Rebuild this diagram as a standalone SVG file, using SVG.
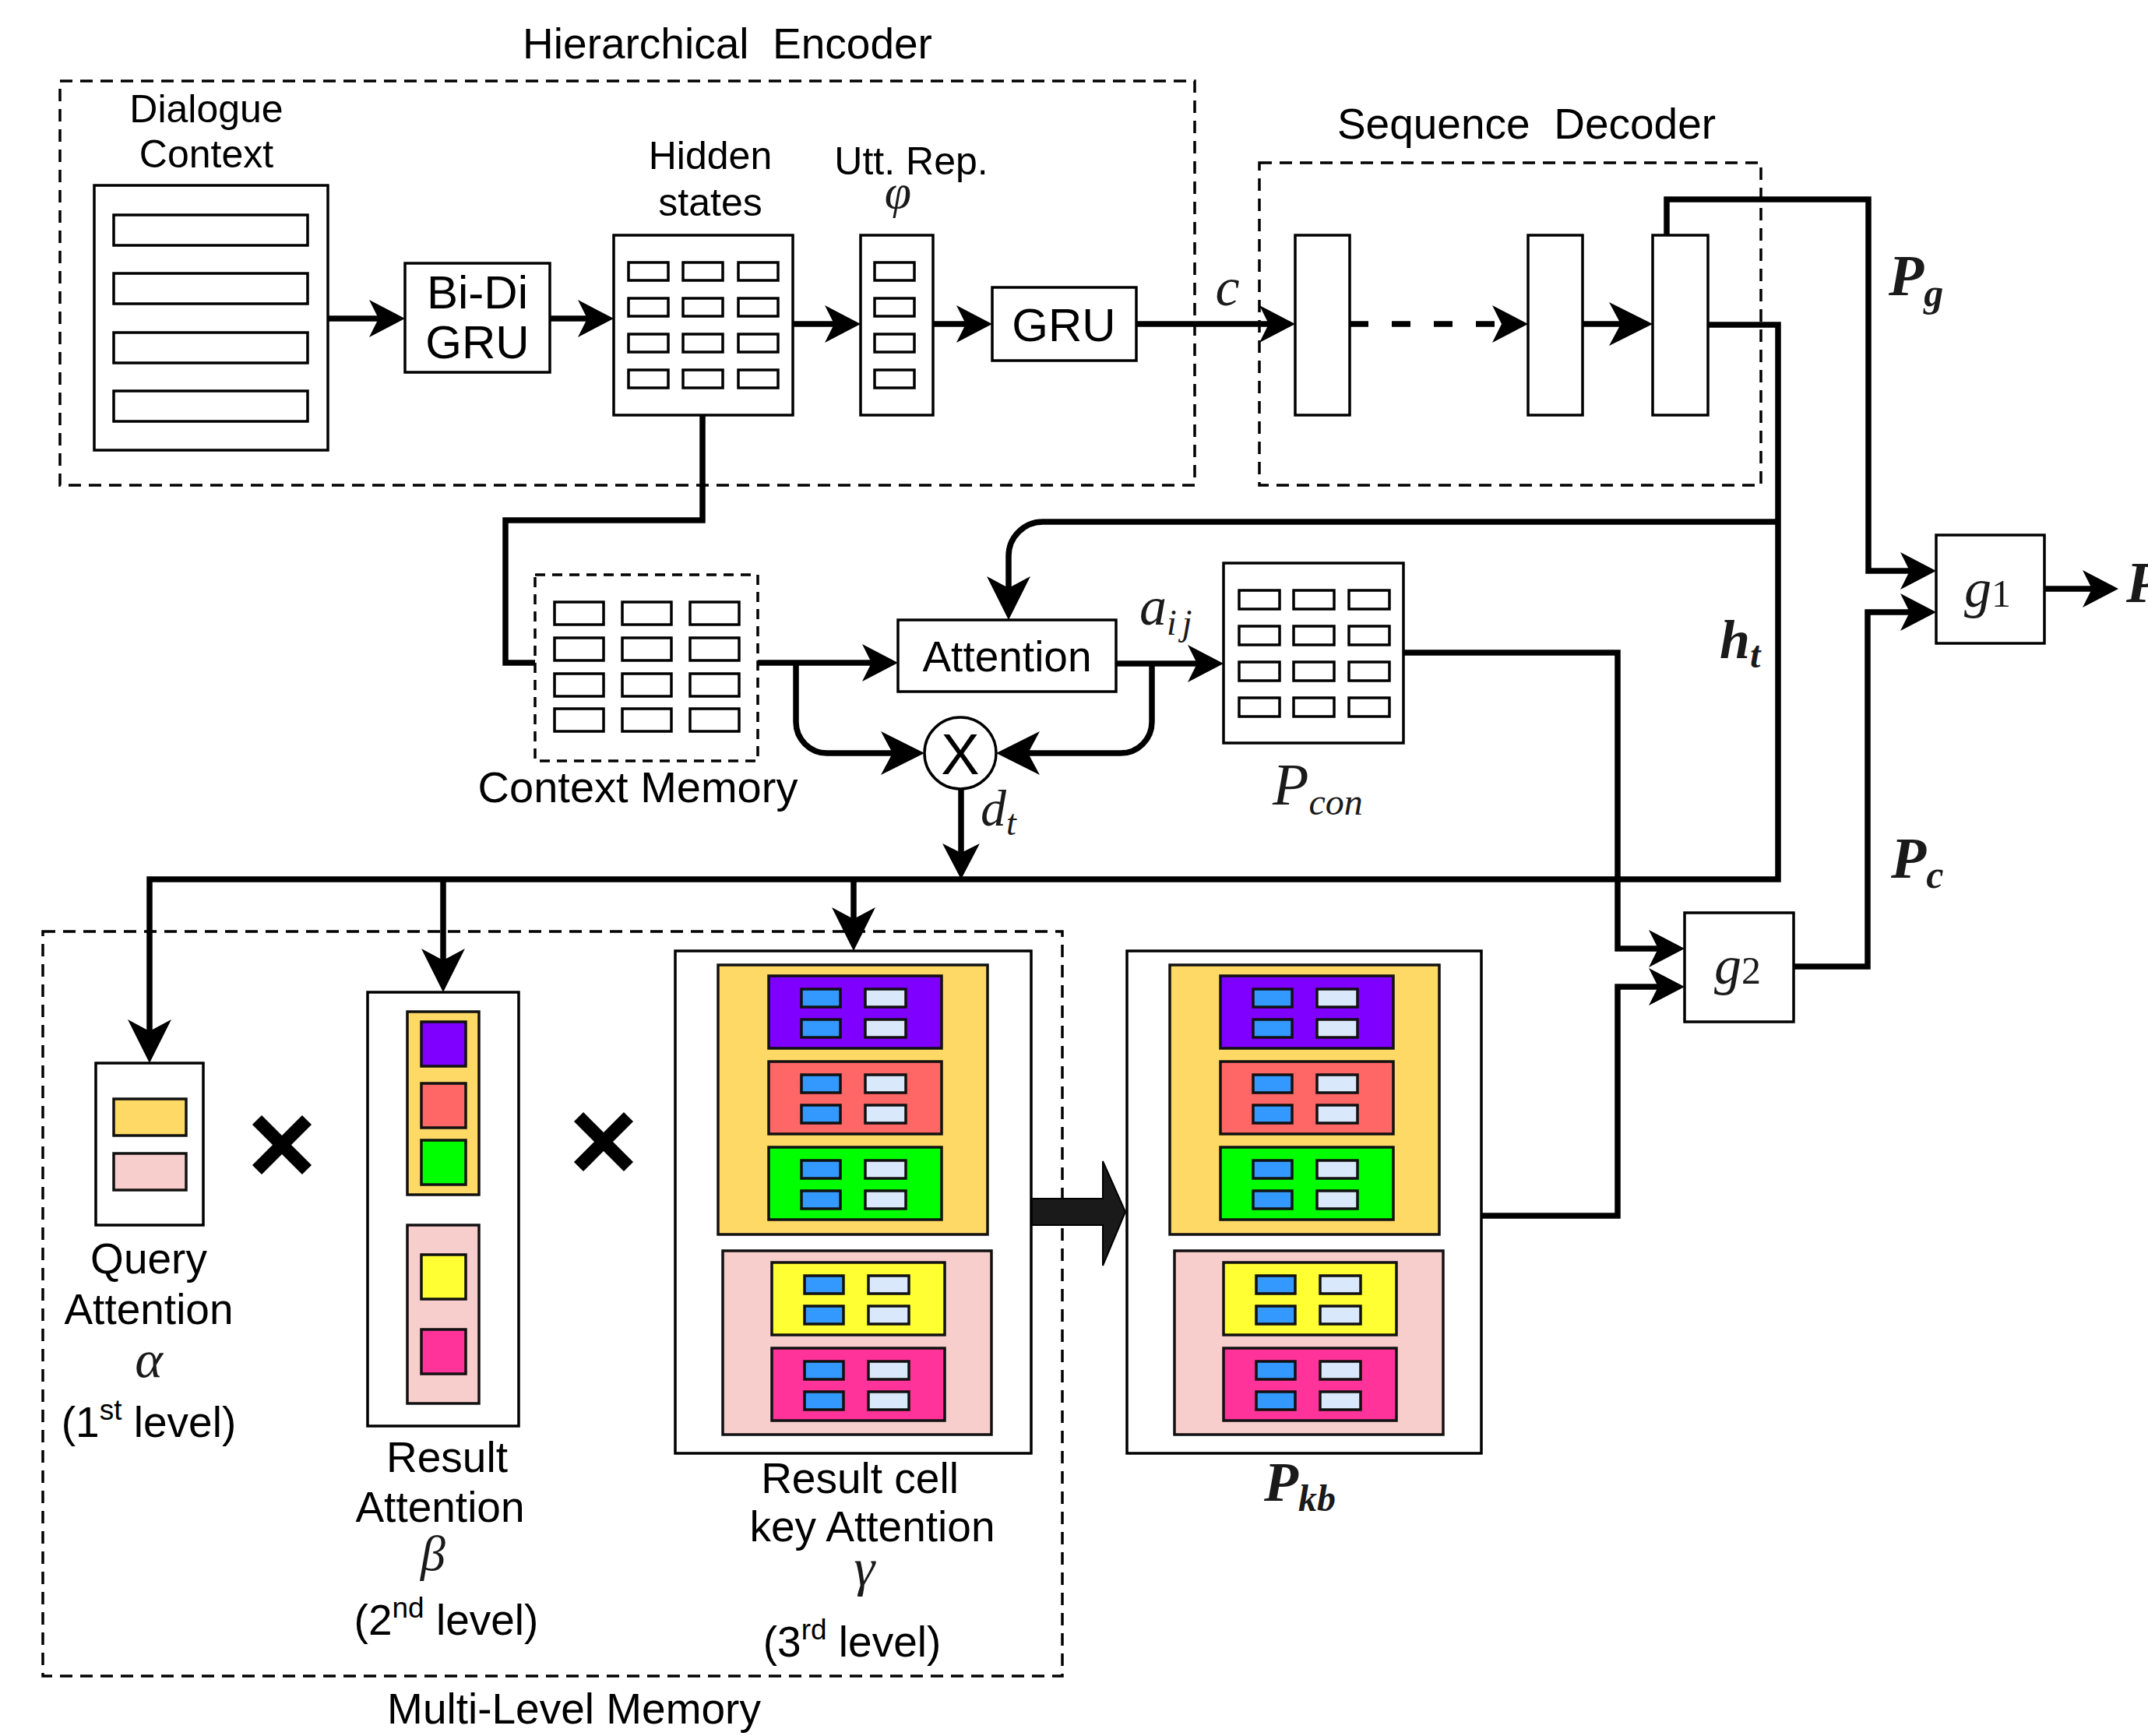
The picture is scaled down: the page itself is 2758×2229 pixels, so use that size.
<svg xmlns="http://www.w3.org/2000/svg" xmlns:xlink="http://www.w3.org/1999/xlink" width="2758" height="2229" viewBox="0 0 2758 2229">
<style>
.box{fill:#fff;stroke:#000;stroke-width:3.5}
.dash{fill:none;stroke:#000;stroke-width:3.5;stroke-dasharray:16 10}
.cdash{fill:#fff;stroke:#000;stroke-width:3.5;stroke-dasharray:13 9}
.cell{fill:#fff;stroke:#000;stroke-width:3.5}
.conn{fill:none;stroke:#000;stroke-width:7.5}
.lbl{font-family:"Liberation Sans",Arial,sans-serif;font-size:50px;fill:#000;text-anchor:middle}
.l54{font-size:55px}
.l60{font-size:60px}
.math{font-family:"Liberation Serif","Times New Roman",serif;font-style:italic;fill:#1a1a1a}
.bm{font-weight:bold}
.k{stroke:#111;stroke-width:3.5}
.cy{fill:#FFD966}.cp{fill:#F8CECC}.vp{fill:#7F00FF}.vr{fill:#FF6666}.vg{fill:#00FF00}.vy{fill:#FFFF33}.vm{fill:#FF3399}
.cb{fill:#3399FF;stroke:#111;stroke-width:3.5}.cl{fill:#DAE8FC;stroke:#111;stroke-width:3.5}
.xm{fill:none;stroke:#000;stroke-width:17}
</style>
<defs>
<marker id="arr" viewBox="0 0 46 48" refX="38" refY="24" markerWidth="46" markerHeight="48" markerUnits="userSpaceOnUse" orient="auto"><path d="M0,0 L46,24 L0,48 L12,24 Z" fill="#000"/></marker>
<marker id="arrL" viewBox="0 0 56 56" refX="48" refY="28" markerWidth="56" markerHeight="56" markerUnits="userSpaceOnUse" orient="auto"><path d="M0,0 L56,28 L0,56 L15,28 Z" fill="#000"/></marker>
<g id="cells">
<rect class="cb" x="42" y="17" width="50" height="23"/>
<rect class="cl" x="124" y="17" width="52" height="23"/>
<rect class="cb" x="42" y="56" width="50" height="23"/>
<rect class="cl" x="124" y="56" width="52" height="23"/>
</g>
<g id="kb">
<rect class="k cy" x="55" y="18" width="346" height="346"/>
<rect class="k vp" x="120" y="32" width="222" height="93"/>
<use href="#cells" x="120" y="32"/>
<rect class="k vr" x="120" y="142" width="222" height="93"/>
<use href="#cells" x="120" y="142"/>
<rect class="k vg" x="120" y="252" width="222" height="93"/>
<use href="#cells" x="120" y="252"/>
<rect class="k cp" x="61" y="385" width="345" height="236"/>
<rect class="k vy" x="124" y="400" width="222" height="93"/>
<use href="#cells" x="124" y="400"/>
<rect class="k vm" x="124" y="510" width="222" height="93"/>
<use href="#cells" x="124" y="510"/>
</g>
</defs>
<rect width="2758" height="2229" fill="#fff"/>

<g id="groups">
<rect class="dash" x="77" y="104" width="1457" height="519"/>
<text class="lbl l54" x="934" y="75" style="white-space:pre">Hierarchical  Encoder</text>
<rect class="dash" x="1617" y="209" width="644" height="414"/>
<text class="lbl l54" x="1960" y="178" style="white-space:pre">Sequence  Decoder</text>
<rect class="dash" x="55" y="1196" width="1309" height="956"/>
<text class="lbl l54" x="737" y="2213">Multi-Level Memory</text>
</g>

<g id="connectors">
<path class="conn" d="M421,409 H512" marker-end="url(#arr)"/>
<path class="conn" d="M706,409 H780" marker-end="url(#arr)"/>
<path class="conn" d="M1018,416 H1097" marker-end="url(#arr)"/>
<path class="conn" d="M1198,416 H1266" marker-end="url(#arr)"/>
<path class="conn" d="M1459,416 H1655" marker-end="url(#arr)"/>
<path class="conn" d="M1733,416 H1954" stroke-dasharray="24 30" marker-end="url(#arr)"/>
<path class="conn" d="M2032,416 H2114" marker-end="url(#arrL)"/>
<path class="conn" d="M2140,302 V256 H2399 V733 H2478" marker-end="url(#arr)"/>
<path class="conn" d="M2193,417 H2283 V1129 H192 V1357" marker-end="url(#arrL)"/>
<path class="conn" d="M569,1129 V1266" marker-end="url(#arrL)"/>
<path class="conn" d="M1096,1129 V1213" marker-end="url(#arrL)"/>
<path class="conn" d="M2283,670 H1339 A44,44 0 0 0 1295,714 V788" marker-end="url(#arrL)"/>
<path class="conn" d="M902,533 V668 H649 V851 H687"/>
<path class="conn" d="M973,851 H1145" marker-end="url(#arr)"/>
<path class="conn" d="M1022,851 V927 A40,40 0 0 0 1062,967 H1179" marker-end="url(#arrL)"/>
<path class="conn" d="M1433,852 H1563" marker-end="url(#arr)"/>
<path class="conn" d="M1479,852 V927 A40,40 0 0 1 1439,967 H1287" marker-end="url(#arrL)"/>
<path class="conn" d="M1234,1013 V1121" marker-end="url(#arr)"/>
<path class="conn" d="M1802,838 H2077 V1218 H2155" marker-end="url(#arr)"/>
<path class="conn" d="M1902,1561 H2077 V1267 H2155" marker-end="url(#arr)"/>
<path class="conn" d="M2303,1241 H2398 V786 H2478" marker-end="url(#arr)"/>
<path class="conn" d="M2625,756 H2712" marker-end="url(#arr)"/>
<path d="M1324,1539 H1416 V1491 L1445,1556 L1416,1625 V1573 H1324 Z" fill="#1a1a1a" stroke="#000" stroke-width="2"/>
</g>

<g id="dialogue-context">
<text class="lbl" x="265" y="157">Dialogue</text>
<text class="lbl" x="265" y="215">Context</text>
<rect class="box" x="121" y="238" width="300" height="340"/>
<rect class="cell" x="146" y="276" width="249" height="39"/>
<rect class="cell" x="146" y="351" width="249" height="39"/>
<rect class="cell" x="146" y="427" width="249" height="39"/>
<rect class="cell" x="146" y="502" width="249" height="39"/>
</g>

<g id="bidi-gru">
<rect class="box" x="520" y="338" width="186" height="140"/>
<text class="lbl l60" x="613" y="396">Bi-Di</text>
<text class="lbl l60" x="613" y="460">GRU</text>
</g>

<g id="hidden-states">
<text class="lbl" x="912" y="217">Hidden</text>
<text class="lbl" x="912" y="277">states</text>
<rect class="box" x="788" y="302" width="230" height="231"/>
<rect class="cell" x="807" y="337" width="51" height="23"/><rect class="cell" x="877" y="337" width="51" height="23"/><rect class="cell" x="948" y="337" width="51" height="23"/>
<rect class="cell" x="807" y="383" width="51" height="23"/><rect class="cell" x="877" y="383" width="51" height="23"/><rect class="cell" x="948" y="383" width="51" height="23"/>
<rect class="cell" x="807" y="429" width="51" height="23"/><rect class="cell" x="877" y="429" width="51" height="23"/><rect class="cell" x="948" y="429" width="51" height="23"/>
<rect class="cell" x="807" y="475" width="51" height="23"/><rect class="cell" x="877" y="475" width="51" height="23"/><rect class="cell" x="948" y="475" width="51" height="23"/>
</g>

<g id="utt-rep">
<text class="lbl" x="1170" y="224">Utt. Rep.</text>
<text class="math" x="1153" y="267" font-size="62" text-anchor="middle">φ</text>
<rect class="box" x="1105" y="302" width="93" height="231"/>
<rect class="cell" x="1123" y="337" width="51" height="23"/>
<rect class="cell" x="1123" y="383" width="51" height="23"/>
<rect class="cell" x="1123" y="429" width="51" height="23"/>
<rect class="cell" x="1123" y="475" width="51" height="23"/>
</g>

<g id="gru">
<rect class="box" x="1274" y="369" width="185" height="94"/>
<text class="lbl l60" x="1366" y="438">GRU</text>
</g>
<text class="math" x="1576" y="392" font-size="70" text-anchor="middle">c</text>

<g id="decoder-cells">
<rect class="box" x="1663" y="302" width="70" height="231"/>
<rect class="box" x="1962" y="302" width="70" height="231"/>
<rect class="box" x="2122" y="302" width="71" height="231"/>
</g>

<text class="math bm" x="2425" y="379" font-size="74">P<tspan font-size="50" dy="14">g</tspan></text>
<text class="math bm" x="2208" y="845" font-size="70">h<tspan font-size="48" dy="12">t</tspan></text>

<g id="g1">
<rect class="box" x="2486" y="687" width="139" height="139"/>
<text class="math" x="2552" y="779" font-size="70" text-anchor="middle">g<tspan font-style="normal" font-size="50">1</tspan></text>
</g>
<text class="math bm" x="2730" y="773" font-size="74">P</text>

<g id="context-memory">
<rect class="cdash" x="687" y="738" width="286" height="239"/>
<rect class="cell" x="712" y="773" width="63" height="29"/><rect class="cell" x="799" y="773" width="63" height="29"/><rect class="cell" x="886" y="773" width="63" height="29"/>
<rect class="cell" x="712" y="819" width="63" height="29"/><rect class="cell" x="799" y="819" width="63" height="29"/><rect class="cell" x="886" y="819" width="63" height="29"/>
<rect class="cell" x="712" y="865" width="63" height="29"/><rect class="cell" x="799" y="865" width="63" height="29"/><rect class="cell" x="886" y="865" width="63" height="29"/>
<rect class="cell" x="712" y="910" width="63" height="29"/><rect class="cell" x="799" y="910" width="63" height="29"/><rect class="cell" x="886" y="910" width="63" height="29"/>
<text class="lbl" x="819" y="1030" style="font-size:56px">Context Memory</text>
</g>

<g id="attention">
<rect class="box" x="1153" y="796" width="280" height="92"/>
<text class="lbl l54" x="1293" y="862">Attention</text>
</g>
<text class="math" x="1463" y="802" font-size="70">a<tspan font-size="46" dy="13" letter-spacing="7">ij</tspan></text>

<g id="multiply">
<circle cx="1233" cy="967" r="46" fill="#fff" stroke="#000" stroke-width="3.5"/>
<text class="lbl" x="1233" y="994" style="font-size:74px">X</text>
</g>
<text class="math" x="1259" y="1060" font-size="66">d<tspan font-size="46" dy="12">t</tspan></text>

<g id="p-con">
<rect class="box" x="1571" y="723" width="231" height="231"/>
<rect class="cell" x="1591" y="758" width="52" height="24"/><rect class="cell" x="1661" y="758" width="52" height="24"/><rect class="cell" x="1732" y="758" width="52" height="24"/>
<rect class="cell" x="1591" y="804" width="52" height="24"/><rect class="cell" x="1661" y="804" width="52" height="24"/><rect class="cell" x="1732" y="804" width="52" height="24"/>
<rect class="cell" x="1591" y="850" width="52" height="24"/><rect class="cell" x="1661" y="850" width="52" height="24"/><rect class="cell" x="1732" y="850" width="52" height="24"/>
<rect class="cell" x="1591" y="896" width="52" height="24"/><rect class="cell" x="1661" y="896" width="52" height="24"/><rect class="cell" x="1732" y="896" width="52" height="24"/>
<text class="math" x="1634" y="1033" font-size="76">P<tspan font-size="48" dy="13">con</tspan></text>
</g>

<text class="math bm" x="2428" y="1127" font-size="74">P<tspan font-size="50" dy="13">c</tspan></text>

<g id="g2">
<rect class="box" x="2163" y="1172" width="140" height="140"/>
<text class="math" x="2231" y="1263" font-size="70" text-anchor="middle">g<tspan font-style="normal" font-size="50">2</tspan></text>
</g>

<g id="query-attention">
<rect class="box" x="123" y="1365" width="138" height="208"/>
<rect class="k cy" x="146" y="1411" width="93" height="47"/>
<rect class="k cp" x="146" y="1481" width="93" height="47"/>
<text class="lbl l54" x="191" y="1635">Query</text>
<text class="lbl l54" x="191" y="1700">Attention</text>
<text class="math" x="191" y="1768" font-size="68" text-anchor="middle">α</text>
<text class="lbl l54" x="191" y="1845">(1<tspan font-size="37" dy="-22">st</tspan><tspan dy="22"> level)</tspan></text>
</g>

<path class="xm" d="M330,1438 L394,1502 M394,1438 L330,1502"/>
<path class="xm" d="M743,1434 L807,1498 M807,1434 L743,1498"/>

<g id="result-attention">
<rect class="box" x="472" y="1274" width="194" height="557"/>
<rect class="k cy" x="523" y="1299" width="92" height="235"/>
<rect class="k vp" x="541" y="1312" width="57" height="57"/>
<rect class="k vr" x="541" y="1391" width="57" height="57"/>
<rect class="k vg" x="541" y="1464" width="57" height="57"/>
<rect class="k cp" x="523" y="1573" width="92" height="229"/>
<rect class="k vy" x="541" y="1611" width="57" height="57"/>
<rect class="k vm" x="541" y="1707" width="57" height="57"/>
<text class="lbl l54" x="574" y="1890">Result</text>
<text class="lbl l54" x="565" y="1954">Attention</text>
<text class="math" x="556" y="2016" font-size="64" text-anchor="middle">β</text>
<text class="lbl l54" x="573" y="2099">(2<tspan font-size="37" dy="-22">nd</tspan><tspan dy="22"> level)</tspan></text>
</g>

<g id="result-cell-key-attention">
<rect class="box" x="867" y="1221" width="457" height="645"/>
<use href="#kb" x="867" y="1221"/>
<text class="lbl l54" x="1104" y="1917">Result cell</text>
<text class="lbl l54" x="1120" y="1979">key Attention</text>
<text class="math" x="1110" y="2036" font-size="68" text-anchor="middle">γ</text>
<text class="lbl l54" x="1094" y="2127">(3<tspan font-size="37" dy="-22">rd</tspan><tspan dy="22"> level)</tspan></text>
</g>

<g id="p-kb">
<rect class="box" x="1447" y="1221" width="455" height="645"/>
<use href="#kb" x="1447" y="1221"/>
<text class="math bm" x="1623" y="1927" font-size="72">P<tspan font-size="48" dy="13">kb</tspan></text>
</g>
</svg>
